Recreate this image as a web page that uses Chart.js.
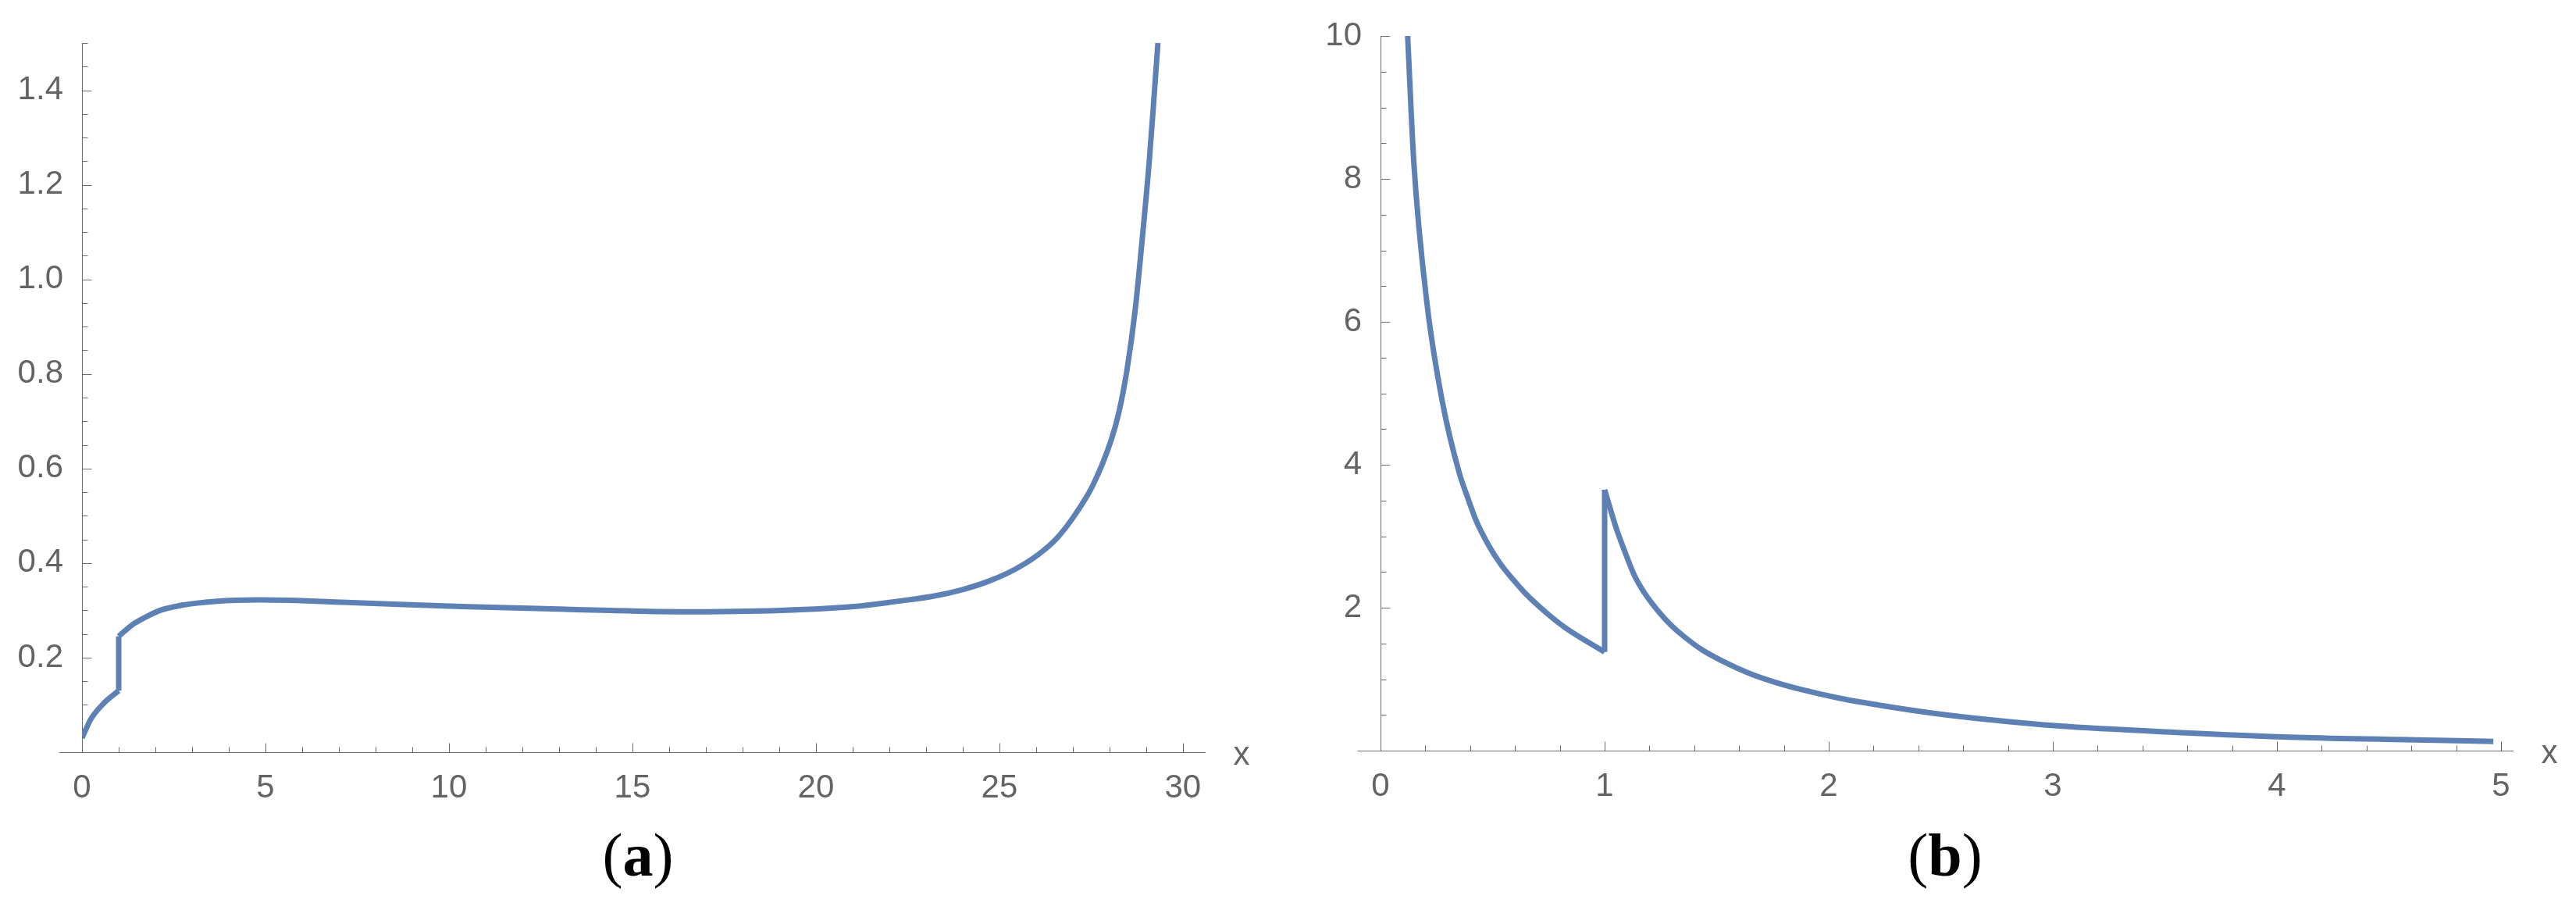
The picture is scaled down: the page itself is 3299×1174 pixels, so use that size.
<!DOCTYPE html>
<html><head><meta charset="utf-8">
<script src="https://cdn.jsdelivr.net/npm/chart.js@4/dist/chart.umd.min.js"></script>
<style>
html,body{margin:0;padding:0;background:#fff;width:3299px;height:1174px;overflow:hidden}
#wa{position:absolute;left:0;top:0;width:1650px;height:1174px}
#wb{position:absolute;left:1650px;top:0;width:1649px;height:1174px}
.cap{position:absolute;top:1056px;width:300px;text-align:center;font-family:"Liberation Serif","Times New Roman",serif;font-size:78px;line-height:78px;color:#000}
.cap b{font-weight:bold}
</style></head><body>
<div id="wa"><canvas id="ca" width="1650" height="1174"></canvas></div>
<div id="wb"><canvas id="cb" width="1649" height="1174"></canvas></div>
<div class="cap" style="left:667px">(<b>a</b>)</div>
<div class="cap" style="left:2341px">(<b>b</b>)</div>
<script>
// ---------- Panel (a) data ----------
const aX1 = [0, 0.25, 0.6, 1.0];
const aY1 = [0.03, 0.071, 0.104, 0.13];
const aX2 = [1.0, 1.38, 1.67, 2.13, 2.73, 3.62, 4.85, 7.36, 10.34, 13.32, 16.31, 19.04, 21.17, 22.2, 23.2, 24.0, 24.72, 25.43, 26.06, 26.56, 27.06, 27.55, 28.05, 28.26, 28.48, 28.70, 28.87, 29.08, 29.2, 29.32];
const aY2 = [0.245, 0.270, 0.283, 0.300, 0.311, 0.319, 0.322, 0.3165, 0.308, 0.302, 0.297, 0.300, 0.309, 0.319, 0.330, 0.344, 0.362, 0.387, 0.418, 0.452, 0.502, 0.565, 0.661, 0.72, 0.810, 0.935, 1.067, 1.246, 1.37, 1.5];
const aXTicks = [0, 5, 10, 15, 20, 25, 30];
const aYTicks = [0.2, 0.4, 0.6, 0.8, 1.0, 1.2, 1.4];

// ---------- Panel (b) data ----------
const bX1 = [0.121, 0.149, 0.208, 0.276, 0.35, 0.39, 0.429, 0.483, 0.536, 0.59, 0.643, 0.762, 0.829, 1.0];
const bY1 = [10.0, 8.21, 6.24, 4.88, 3.90, 3.53, 3.20, 2.87, 2.61, 2.40, 2.21, 1.87, 1.71, 1.38];
const bX2 = [1.0, 1.052, 1.086, 1.133, 1.179, 1.237, 1.295, 1.353, 1.435, 1.528, 1.643, 1.759, 1.876, 2.05, 2.224, 2.456, 2.746, 3.02, 3.554, 4.087, 4.62, 4.966];
const bY2 = [3.65, 3.11, 2.82, 2.45, 2.20, 1.96, 1.76, 1.60, 1.41, 1.25, 1.085, 0.958, 0.856, 0.732, 0.637, 0.528, 0.423, 0.346, 0.255, 0.186, 0.150, 0.128];
const bXTicks = [0, 1, 2, 3, 4, 5];
const bYTicks = [2, 4, 6, 8, 10];

const LINE = '#5E81B5';
const AXIS = '#6a6a6a';
const LABEL = '#646464';
const FONT = '"Liberation Sans", Arial, sans-serif';

function minorTicks(start, end, step, majors) {
  const out = [];
  const n = Math.round((end - start) / step);
  for (let i = 0; i <= n; i++) {
    const v = +(start + i * step).toFixed(6);
    if (!majors.some(m => Math.abs(m - v) < 1e-9) && Math.abs(v) > 1e-9) out.push(v);
  }
  return out;
}

const axesPlugin = {
  id: 'mAxes',
  beforeDatasetsDraw(chart, args, o) {
    const {ctx, chartArea: a, scales: {x, y}} = chart;
    const x0 = Math.round(x.getPixelForValue(0)) + 0.5;
    const y0 = Math.round(y.getPixelForValue(0)) + 0.5;
    ctx.save();
    ctx.strokeStyle = AXIS;
    ctx.lineWidth = 1;
    ctx.beginPath();
    ctx.moveTo(x0 - o.extLeft, y0); ctx.lineTo(a.right, y0);
    ctx.moveTo(x0, y0); ctx.lineTo(x0, Math.round(y.getPixelForValue(y.max)));
    o.xMajor.forEach(v => { if (v === 0) return; const p = Math.round(x.getPixelForValue(v)) + 0.5; ctx.moveTo(p, y0); ctx.lineTo(p, y0 - 12); });
    o.xMinor.forEach(v => { const p = Math.round(x.getPixelForValue(v)) + 0.5; ctx.moveTo(p, y0); ctx.lineTo(p, y0 - 7); });
    o.yMajor.forEach(v => { const p = Math.round(y.getPixelForValue(v)) + 0.5; ctx.moveTo(x0, p); ctx.lineTo(x0 + 12, p); });
    o.yMinor.forEach(v => { const p = Math.round(y.getPixelForValue(v)) + 0.5; ctx.moveTo(x0, p); ctx.lineTo(x0 + 7, p); });
    ctx.stroke();
    ctx.fillStyle = LABEL;
    ctx.font = '42px ' + FONT;
    ctx.textAlign = 'center';
    ctx.textBaseline = 'alphabetic';
    ctx.fillText('x', a.right + 46, y0 + 15);
    ctx.restore();
  }
};

function pts(xs, ys) { return xs.map((v, i) => ({x: v, y: ys[i]})); }

function makeChart(id, cfg) {
  const lineStyle = {borderColor: LINE, borderWidth: 7, pointRadius: 0, fill: false, borderCapStyle: 'butt', borderJoinStyle: 'miter'};
  const d1 = pts(cfg.x1, cfg.y1), d2 = pts(cfg.x2, cfg.y2);
  return new Chart(document.getElementById(id), {
    type: 'line',
    data: {
      datasets: [
        Object.assign({data: d1, cubicInterpolationMode: 'monotone'}, lineStyle),
        Object.assign({data: [d1[d1.length - 1], d2[0]], tension: 0}, lineStyle),
        Object.assign({data: d2, cubicInterpolationMode: 'monotone'}, lineStyle)
      ]
    },
    options: {
      responsive: false,
      animation: false,
      layout: {padding: cfg.padding},
      plugins: {
        legend: {display: false},
        tooltip: {enabled: false},
        mAxes: {extLeft: 30, xMajor: cfg.xTicks, xMinor: cfg.xMinor, yMajor: cfg.yTicks, yMinor: cfg.yMinor}
      },
      scales: {
        x: {
          type: 'linear', min: 0, max: cfg.xMax,
          grid: {display: false}, border: {display: false},
          afterBuildTicks: s => { s.ticks = cfg.xTicks.map(v => ({value: v})); },
          afterFit: s => { s.height = cfg.xAxisH; },
          ticks: {font: {family: FONT, size: 42}, color: LABEL, padding: 13, autoSkip: false, maxRotation: 0, minRotation: 0,
                  callback: v => String(v)}
        },
        y: {
          type: 'linear', min: 0, max: cfg.yMax,
          grid: {display: false}, border: {display: false},
          afterBuildTicks: s => { s.ticks = cfg.yTicks.map(v => ({value: v})); },
          afterFit: s => { s.width = 100; },
          ticks: {font: {family: FONT, size: 42}, color: LABEL, padding: 16, autoSkip: false,
                  callback: v => cfg.yFmt(v)}
        }
      }
    },
    plugins: [axesPlugin]
  });
}

makeChart('ca', {
  x1: aX1, y1: aY1, x2: aX2, y2: aY2,
  xTicks: aXTicks, yTicks: aYTicks,
  xMinor: minorTicks(0, 30, 1, aXTicks), yMinor: minorTicks(0, 1.5, 0.05, aYTicks),
  xMax: 30.62, yMax: 1.5, xAxisH: 111,
  padding: {left: 5, right: 106, top: 55, bottom: 100},
  yFmt: v => v.toFixed(1)
});

makeChart('cb', {
  x1: bX1, y1: bY1, x2: bX2, y2: bY2,
  xTicks: bXTicks, yTicks: bYTicks,
  xMinor: minorTicks(0, 5, 0.2, bXTicks), yMinor: minorTicks(0, 10, 0.5, bYTicks),
  xMax: 5.056, yMax: 10, xAxisH: 113,
  padding: {left: 18, right: 80, top: 46, bottom: 100},
  yFmt: v => String(v)
});
</script>
</body></html>
